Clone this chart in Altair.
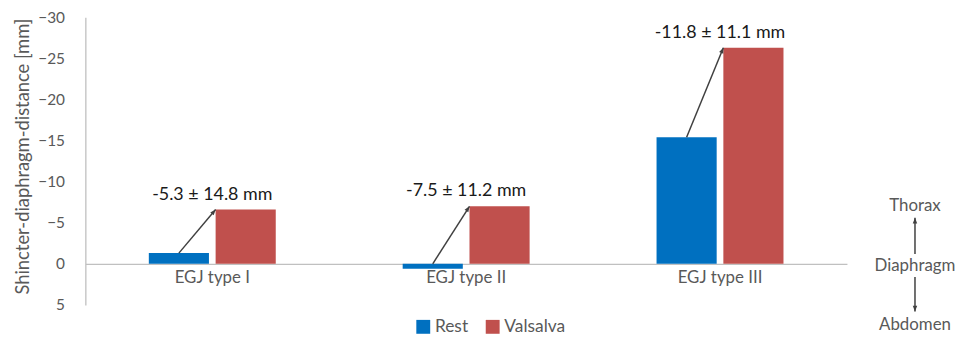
import math
import altair as alt
import pandas as pd

# ---------------- data ----------------
categories = ["EGJ type I", "EGJ type II", "EGJ type III"]
series = ["Rest", "Valsalva"]
rest = [-1.3, 0.6, -15.4]
valsalva = [-6.6, -7.0, -26.3]
change_labels = ["-5.3 ± 14.8 mm", "-7.5 ± 11.2 mm", "-11.8 ± 11.1 mm"]
y_ticks = [-30, -25, -20, -15, -10, -5, 0, 5]
side_labels = ["Thorax", "Diaphragm", "Abdomen"]
side_label_y = [-7.0, 0.3, 7.4]
side_arrow_from = [-1.2, 1.6]
side_arrow_to = [-5.6, 5.8]
side_x = 3.268
colors = ["#0070C0", "#C0504D"]

# ---------------- layout ----------------
W, H = 768, 290
Y_MIN, Y_MAX = -30, 5
px_per_unit = H / (Y_MAX - Y_MIN)
step_px = W / len(categories)
PAD_INNER, PAD_OUTER, SUB_PAD = 0.5, 0.25, 0.1
group_w = 1 - PAD_INNER
sub_step = group_w / (len(series) - SUB_PAD)
sub_bw = sub_step * (1 - SUB_PAD)

FONT = "Lato"
GRAY = "#595959"
ARROW = "#404040"

bars_df = pd.DataFrame(
    [{"category": c, "series": s, "value": v}
     for c, r, va in zip(categories, rest, valsalva)
     for s, v in zip(series, [r, va])]
)


def angle_of(x0, y0, x1, y1):
    dx = (x1 - x0) * step_px
    dy = (y1 - y0) * px_per_unit
    return math.degrees(math.atan2(dx, -dy)) % 360


arrow_rows = []
for i, (r, va) in enumerate(zip(rest, valsalva)):
    x0 = i + PAD_OUTER + sub_bw / 2
    y0 = min(r, 0)
    x1 = i + PAD_OUTER + sub_step
    y1 = va
    arrow_rows.append({"x0": x0, "y0": y0, "x1": x1, "y1": y1,
                       "angle": angle_of(x0, y0, x1, y1)})
for f, t in zip(side_arrow_from, side_arrow_to):
    arrow_rows.append({"x0": side_x, "y0": f, "x1": side_x, "y1": t,
                       "angle": angle_of(side_x, f, side_x, t)})
arrows_df = pd.DataFrame(arrow_rows)

labels_df = pd.DataFrame({
    "x": [i + 0.5 for i in range(len(categories))],
    "y": valsalva,
    "label": change_labels,
})
side_df = pd.DataFrame({"x": [side_x] * 3, "y": side_label_y, "label": side_labels})

y_scale = alt.Scale(domain=[Y_MIN, Y_MAX], reverse=True, nice=False, zero=False)
xq_scale = alt.Scale(domain=[0, len(categories)], nice=False, zero=False)

y_axis = alt.Axis(
    values=y_ticks, grid=False, ticks=False, tickSize=0, labelPadding=21,
    labelFontSize=15.5, labelColor=GRAY, labelFont=FONT,
    domainColor="#c0c0c0", domainWidth=1.3,
    title="Shincter-diaphragm-distance [mm]", titleFont=FONT, titleFontSize=18.5,
    titleFontWeight="normal", titleColor=GRAY, titleAngle=270,
    titleX=-63, titleY=140, titleAlign="center", titleBaseline="middle",
)

bars = alt.Chart(bars_df).mark_bar().encode(
    x=alt.X("category:N", sort=categories,
            scale=alt.Scale(paddingInner=PAD_INNER, paddingOuter=PAD_OUTER),
            axis=alt.Axis(title=None, labelAngle=0, ticks=False, tickSize=0,
                          labelPadding=6, labelFontSize=17, labelColor=GRAY,
                          labelFont=FONT, domainColor="#c0c0c0", domainWidth=1.3,
                          offset=-(Y_MAX - 0) * px_per_unit)),
    xOffset=alt.XOffset("series:N", sort=series,
                        scale=alt.Scale(paddingInner=SUB_PAD, paddingOuter=0)),
    y=alt.Y("value:Q", scale=y_scale, axis=y_axis),
    color=alt.Color("series:N", sort=series,
                    scale=alt.Scale(domain=series, range=colors),
                    legend=alt.Legend(title=None, orient="none", direction="horizontal",
                                      legendX=332, legendY=303, symbolType="square",
                                      symbolSize=196, symbolStrokeWidth=0,
                                      labelFontSize=17.5, labelColor=GRAY, labelFont=FONT,
                                      labelOffset=3, columnPadding=16)),
)

rules = alt.Chart(arrows_df).mark_rule(color=ARROW, strokeWidth=1.5).encode(
    x=alt.X("x0:Q", scale=xq_scale, axis=None),
    x2="x1:Q",
    y=alt.Y("y0:Q", scale=y_scale, axis=y_axis),
    y2="y1:Q",
)

heads = alt.Chart(arrows_df).mark_point(
    shape="M0,0L-0.75,1.9L0.75,1.9Z", filled=True, opacity=1, color=ARROW, size=36
).encode(
    x=alt.X("x1:Q", scale=xq_scale, axis=None),
    y=alt.Y("y1:Q", scale=y_scale, axis=y_axis),
    angle=alt.Angle("angle:Q", scale=None),
)

change_text = alt.Chart(labels_df).mark_text(
    font=FONT, fontSize=18, color="#1a1a1a", dy=-15, baseline="middle"
).encode(
    x=alt.X("x:Q", scale=xq_scale, axis=None),
    y=alt.Y("y:Q", scale=y_scale, axis=y_axis),
    text="label:N",
)

side_text = alt.Chart(side_df).mark_text(
    font=FONT, fontSize=17, color=GRAY, baseline="middle"
).encode(
    x=alt.X("x:Q", scale=xq_scale, axis=None),
    y=alt.Y("y:Q", scale=y_scale, axis=y_axis),
    text="label:N",
)

chart = alt.layer(bars, rules, heads, change_text, side_text).resolve_scale(
    x="independent"
).properties(
    width=W, height=H,
    autosize=alt.AutoSizeParams(type="none"),
    padding={"left": 78, "top": 8, "right": 114, "bottom": 31},
).configure_view(stroke=None)

chart.save("out.html", embed_options={"renderer": "svg", "actions": False})
